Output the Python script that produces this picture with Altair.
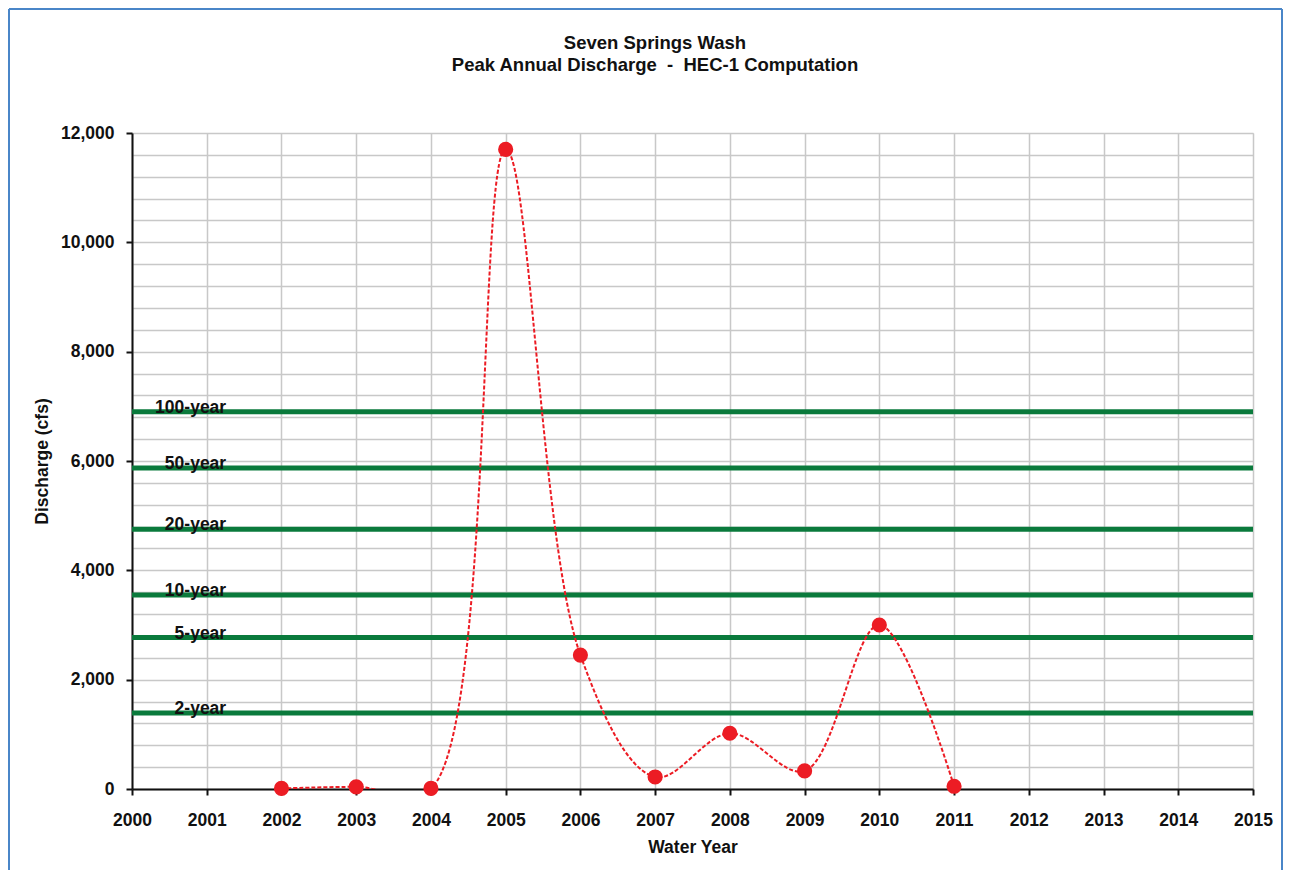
import altair as alt
import pandas as pd

# --- data ---
years = [2002, 2003, 2004, 2005, 2006, 2007, 2008, 2009, 2010, 2011]
discharge = [10, 40, 10, 11700, 2450, 220, 1020, 330, 3000, 50]

flood_labels = ["100-year", "50-year", "20-year", "10-year", "5-year", "2-year"]
flood_values = [6900, 5870, 4750, 3550, 2770, 1390]

title_lines = ["Seven Springs Wash", "Peak Annual Discharge \u00a0-\u00a0 HEC-1 Computation"]

x_ticks = list(range(2000, 2016))
y_grid = list(range(0, 12001, 400))

FONT = "Liberation Sans"
FS = 17.5
RED = "#ec1c24"
GREEN = "#0a7a3c"
BLUE = "#4a86c8"

df = pd.DataFrame({"year": years, "discharge": discharge})
df_flood = pd.DataFrame({"label": flood_labels, "discharge": flood_values})
df_one = pd.DataFrame({"a": [0]})

x_axis = alt.Axis(
    values=x_ticks, format="d", title="Water Year",
    grid=True, gridColor="#c8c8c8", gridWidth=1.5,
    domainColor="#111111", domainWidth=2,
    tickColor="#111111", tickWidth=2, tickSize=6,
    labelFont=FONT, labelFontSize=FS, labelFontWeight="bold", labelColor="#111111",
    labelPadding=16, labelFlush=False, labelOverlap=False,
    titleFont=FONT, titleFontSize=FS, titleFontWeight="bold", titleColor="#111111",
    titlePadding=10,
)
y_axis = alt.Axis(
    values=y_grid, title="Discharge (cfs)",
    labelExpr="datum.value % 2000 === 0 ? format(datum.value, ',') : ''",
    grid=True, gridColor="#c8c8c8", gridWidth=1.5,
    domainColor="#111111", domainWidth=2,
    tickColor="#111111", tickWidth=2, tickSize=6,
    tickOpacity={"condition": {"test": "datum.value % 2000 === 0", "value": 1}, "value": 0},
    labelFont=FONT, labelFontSize=FS, labelFontWeight="bold", labelColor="#111111",
    labelPadding=12, labelFlush=False, labelOverlap=False,
    titleFont=FONT, titleFontSize=FS, titleFontWeight="bold", titleColor="#111111",
    titlePadding=9,
)

x_enc = alt.X("year:Q", scale=alt.Scale(domain=[2000, 2015], nice=False, zero=False), axis=x_axis)
y_enc = alt.Y("discharge:Q", scale=alt.Scale(domain=[0, 12000], nice=False), axis=y_axis)

flood_rules = alt.Chart(df_flood).mark_rule(color=GREEN, strokeWidth=5).encode(y=y_enc)

flood_text = alt.Chart(df_flood).mark_text(
    align="right", baseline="alphabetic", font=FONT, fontSize=FS,
    fontWeight="bold", color="#111111", dy=1,
).encode(x=alt.datum(2001.26), y=y_enc, text="label:N")

line = alt.Chart(df).mark_line(
    interpolate="catmull-rom", color=RED, strokeWidth=2, strokeDash=[4, 2], clip=True
).encode(x=x_enc, y=y_enc)

points = alt.Chart(df).mark_circle(size=230, color=RED, opacity=1).encode(x=x_enc, y=y_enc)

title1 = alt.Chart(df_one).mark_text(
    font=FONT, fontSize=18.5, fontWeight="bold", color="#111111", baseline="middle", align="center"
).encode(x=alt.value(523), y=alt.value(-90), text=alt.value(title_lines[0]))
title2 = alt.Chart(df_one).mark_text(
    font=FONT, fontSize=18.5, fontWeight="bold", color="#111111", baseline="middle", align="center"
).encode(x=alt.value(523), y=alt.value(-68), text=alt.value(title_lines[1]))

frame_top = alt.Chart(df_one).mark_rule(color=BLUE, strokeWidth=2).encode(
    x=alt.value(-123), x2=alt.value(1150), y=alt.value(-124))
frame_left = alt.Chart(df_one).mark_rule(color=BLUE, strokeWidth=2).encode(
    x=alt.value(-123), y=alt.value(-124), y2=alt.value(740))
frame_right = alt.Chart(df_one).mark_rule(color=BLUE, strokeWidth=2).encode(
    x=alt.value(1150), y=alt.value(-124), y2=alt.value(740))

chart = alt.layer(
    flood_rules, line, points, flood_text, title1, title2, frame_top, frame_left, frame_right
).properties(
    width=1121, height=656,
    autosize=alt.AutoSizeParams(type="none"),
    padding={"left": 124, "top": 125, "right": 30, "bottom": 81},
).configure_view(stroke="#8c8c8c", strokeWidth=2).configure(background="white")

chart.save("out.html", embed_options={"renderer": "svg", "actions": False})
